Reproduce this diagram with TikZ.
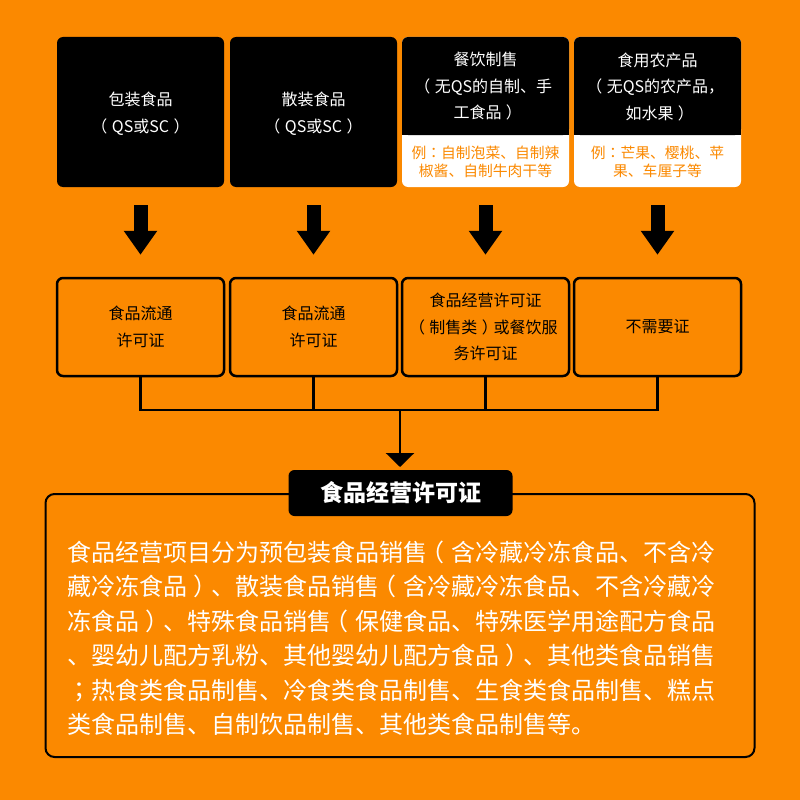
\documentclass[tikz,border=0pt]{standalone}
\usepackage{fontspec}
\setmainfont{Noto Sans CJK SC}[Kerning=Off]
\newfontfamily\tcfont{Noto Sans CJK TC}[Kerning=Off]
\newcommand\lpar{{\kern-0.28em（\kern0.28em}}
\newcommand\rpar{{\kern0.28em）\kern-0.28em}}
\newcommand\fcolon{{\tcfont ：}}
\newcommand\fsemi{{\tcfont ；}}
\usetikzlibrary{arrows.meta}
\definecolor{bgor}{RGB}{251,137,0}
\begin{document}
\begin{tikzpicture}[x=1pt,y=-1pt,
  topblack/.style={fill=black, rounded corners=6pt, minimum width=167pt, inner sep=0pt},
  toptxt/.style={text=white, align=center, font=\fontsize{16}{26.5}\selectfont, inner sep=0pt},
  egtxt/.style={text=bgor, align=center, font=\fontsize{14.8}{18}\selectfont, inner sep=0pt},
  midbox/.style={draw=black, line width=2.5pt, rounded corners=6pt, minimum width=167pt, minimum height=98pt, inner sep=0pt, align=center, font=\fontsize{16}{26.5}\selectfont},
  blockarrow/.style={line width=14pt, -{Triangle[width=32pt,length=24pt]}},
  conn/.style={line width=2.5pt},
  bodyline/.style={text=white, anchor=base west, inner sep=0pt, font=\fontsize{24}{30}\selectfont}]
\fill[bgor] (0,0) rectangle (800,800);
\useasboundingbox (0,0) rectangle (800,800);

% top row
\node[topblack, minimum height=150pt] (t1) at (140.5,112) {};
\node[topblack, minimum height=150pt] (t2) at (313.5,112) {};
\node[topblack, fill=white, minimum height=150pt] (t3) at (485.5,112) {};
\node[topblack, fill=white, minimum height=150pt] (t4) at (657.5,112) {};
\node[topblack, minimum height=98pt] (t3h) at (485.5,86) {};
\node[topblack, minimum height=98pt] (t4h) at (657.5,86) {};
\fill[black] (402,120) rectangle (569,135);
\fill[black] (574,120) rectangle (741,135);

\node[toptxt] (l1) at (140.5,113.5) {包装食品\\\lpar QS或SC\rpar};
\node[toptxt] (l2) at (313.5,113.5) {散装食品\\\lpar QS或SC\rpar};
\node[toptxt] (l3) at (485.5,86.5) {餐饮制售\\\lpar 无QS的自制、手\\工食品\rpar};
\node[toptxt] (l4) at (657.5,86.5) {食用农产品\\\lpar 无QS的农产品，\\如水果\rpar};
\node[egtxt] (e3) at (485.5,162) {例\fcolon 自制泡菜、自制辣\\椒酱、自制牛肉干等};
\node[egtxt] (e4) at (657.5,162) {例\fcolon 芒果、樱桃、苹\\果、车厘子等};

% middle row
\node[midbox] (m1) at (140.5,327) {食品流通\\许可证};
\node[midbox] (m2) at (313.5,327) {食品流通\\许可证};
\node[midbox] (m3) at (485.5,327) {食品经营许可证\\\lpar 制售类\rpar 或餐饮服\\务许可证};
\node[midbox] (m4) at (657.5,327) {不需要证};

% block arrows
\foreach \i in {1,2,3,4}{
  \draw[blockarrow] ([yshift=-18pt]t\i.south) -- ([yshift=22pt]m\i.north);
}

% connectors
\coordinate (bar) at (400,410);
\coordinate (tipc) at (400,467);
\draw[conn] (m1.south) |- (m4.south |- bar) -- (m4.south);
\draw[conn] (m2.south) -- (m2.south |- bar);
\draw[conn] (m3.south) -- (m3.south |- bar);
\draw[conn, -{Triangle[width=28pt,length=14pt]}] (bar) -- (tipc);

% bottom box
\draw[line width=2pt, rounded corners=9pt] (45.5,494) rectangle (754.5,757);
\node[fill=black, rounded corners=6pt, minimum width=224pt, minimum height=46pt, inner sep=0pt, text=white, font=\fontsize{23}{23}\selectfont\bfseries] (title) at (400.5,493) {食品经营许可证};

\node[bodyline] (b1) at (67,561) {食品经营项目分为预包装食品销售\lpar 含冷藏冷冻食品、不含冷};
\node[bodyline] (b2) at (67,595.5) {藏冷冻食品\rpar 、散装食品销售\lpar 含冷藏冷冻食品、不含冷藏冷};
\node[bodyline] (b3) at (67,630) {冻食品\rpar 、特殊食品销售\lpar 保健食品、特殊医学用途配方食品};
\node[bodyline] (b4) at (67,664.5) {、婴幼儿配方乳粉、其他婴幼儿配方食品\rpar 、其他类食品销售};
\node[bodyline] (b5) at (67,699) {\fsemi 热食类食品制售、冷食类食品制售、生食类食品制售、糕点};
\node[bodyline] (b6) at (67,733) {类食品制售、自制饮品制售、其他类食品制售等。};
\end{tikzpicture}
\end{document}
